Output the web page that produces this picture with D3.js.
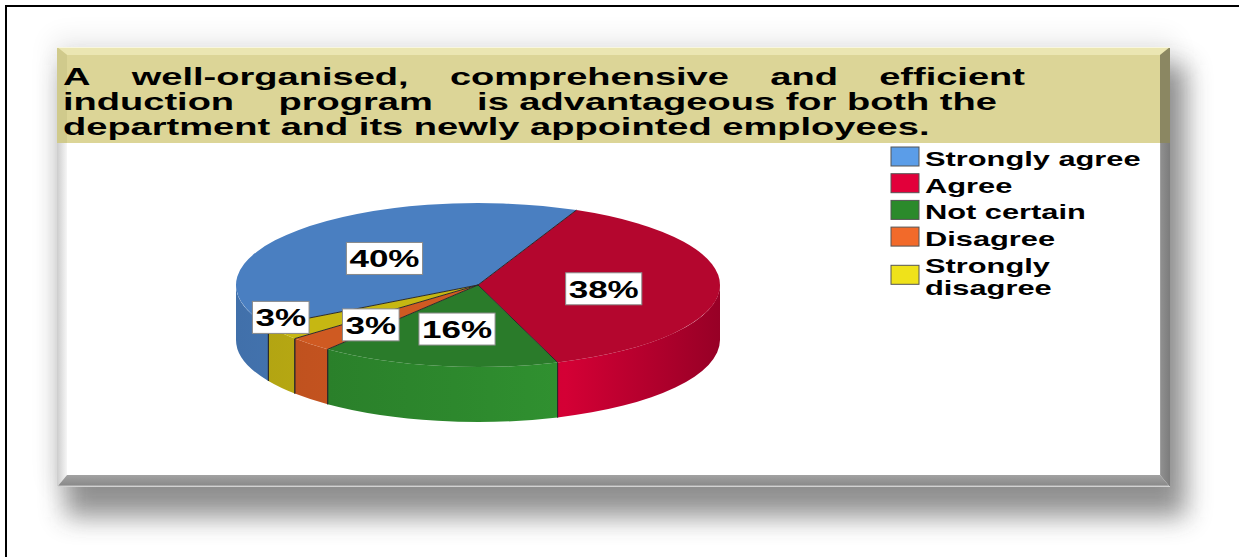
<!DOCTYPE html>
<html><head><meta charset="utf-8">
<script src="https://cdn.jsdelivr.net/npm/d3@7"></script>
<style>html,body{margin:0;padding:0;background:#fff;} svg{display:block}</style>
</head><body>
<script>
// ---- data ----
const categories = ["Strongly agree", "Agree", "Not certain", "Disagree", "Strongly disagree"];
const shares = [40, 38, 16, 3, 3];
const legendLines = [["Strongly agree"], ["Agree"], ["Not certain"], ["Disagree"], ["Strongly", "disagree"]];
const titleLines = [
  ["A", "well-organised,", "comprehensive", "and", "efficient"],
  ["induction", "program", "is advantageous for both the"],
  ["department and its newly appointed employees."]
];

// ---- styles ----
const topColors = ["#4a7fc1", "#b4062e", "#2a7b2a", "#cf5a22", "#c6b712"];
const wallColors = ["#4a7fc1", "#cc0033", "#2e8b2e", "#d35a22", "#c8b814"];
const swatchColors = ["#5b9de8", "#e2003a", "#2b8a2b", "#f26a2a", "#efe21a"];
const FONT = "'Liberation Sans', Arial, Helvetica, sans-serif";

const W = 1239, H = 557;
const svg = d3.select("body").append("svg").attr("width", W).attr("height", H);
const defs = svg.append("defs");

// ---- page frame ----
svg.append("rect").attr("width", W).attr("height", H).attr("fill", "#fff");

const blur = defs.append("filter").attr("id", "soft")
  .attr("x", "-20%").attr("y", "-30%").attr("width", "140%").attr("height", "160%");
blur.append("feGaussianBlur").attr("stdDeviation", 13);

const P = {x0: 57, y0: 47, x1: 1170, y1: 487, side: 10, top: 8, bottom: 12, band: 143};

// drop shadow of the panel
svg.append("rect").attr("x", P.x0 - 5).attr("y", P.y0 - 10)
  .attr("width", P.x1 - P.x0 + 10).attr("height", P.y1 - P.y0 + 10)
  .attr("fill", "#000").attr("opacity", 0.07).attr("filter", "url(#soft)");
svg.append("rect").attr("x", P.x0 + 8).attr("y", P.y0 + 18)
  .attr("width", P.x1 - P.x0 + 8).attr("height", P.y1 - P.y0 + 12)
  .attr("fill", "#3a3a3a").attr("opacity", 0.55).attr("filter", "url(#soft)");

svg.append("path").attr("d", `M6,${H} V6 H${W}`)
  .attr("fill", "none").attr("stroke", "#000").attr("stroke-width", 2);

// panel body
svg.append("rect").attr("x", P.x0).attr("y", P.y0)
  .attr("width", P.x1 - P.x0).attr("height", P.y1 - P.y0).attr("fill", "#fff");
svg.append("rect").attr("x", P.x0).attr("y", P.y0)
  .attr("width", P.x1 - P.x0).attr("height", P.band - P.y0).attr("fill", "#dcd597");

function poly(pts, fill) {
  svg.append("polygon").attr("points", pts.map(p => p.join(",")).join(" ")).attr("fill", fill);
}
const lg = defs.append("linearGradient").attr("id", "bevL").attr("x1", 0).attr("x2", 1);
lg.append("stop").attr("offset", 0).attr("stop-color", "#cdcdcd");
lg.append("stop").attr("offset", 1).attr("stop-color", "#f6f6f6");
const rg = defs.append("linearGradient").attr("id", "bevR").attr("x1", 0).attr("x2", 1);
rg.append("stop").attr("offset", 0).attr("stop-color", "#a6a6a6");
rg.append("stop").attr("offset", 0.15).attr("stop-color", "#8e8e8e");
rg.append("stop").attr("offset", 1).attr("stop-color", "#7c7c7c");
const bg = defs.append("linearGradient").attr("id", "bevB").attr("x1", 0).attr("x2", 0).attr("y1", 0).attr("y2", 1);
bg.append("stop").attr("offset", 0).attr("stop-color", "#a2a2a2");
bg.append("stop").attr("offset", 0.85).attr("stop-color", "#8a8a8a");
bg.append("stop").attr("offset", 0.9).attr("stop-color", "#c8c8c8");
bg.append("stop").attr("offset", 1).attr("stop-color", "#d8d8d8");

const s = P.side;
poly([[P.x0, P.y0], [P.x1, P.y0], [P.x1 - s, P.y0 + P.top], [P.x0 + s, P.y0 + P.top]], "#ebe6b2");
poly([[P.x0, P.y0], [P.x0 + s, P.y0 + P.top], [P.x0 + s, P.band], [P.x0, P.band]], "#d0ca8c");
poly([[P.x0, P.band], [P.x0 + s, P.band], [P.x0 + s, P.y1 - P.bottom], [P.x0, P.y1]], "url(#bevL)");
poly([[P.x1, P.y0], [P.x1 - s, P.y0 + P.top], [P.x1 - s, P.band], [P.x1, P.band]], "#8b8762");
poly([[P.x1, P.band], [P.x1 - s, P.band], [P.x1 - s, P.y1 - P.bottom], [P.x1, P.y1]], "url(#bevR)");
poly([[P.x0, P.y1], [P.x0 + s, P.y1 - P.bottom], [P.x1 - s, P.y1 - P.bottom], [P.x1, P.y1]], "url(#bevB)");
svg.append("line").attr("x1", P.x0).attr("x2", P.x1).attr("y1", P.y0 + 0.5).attr("y2", P.y0 + 0.5)
  .attr("stroke", "#f8f6e0").attr("stroke-width", 1);

// ---- title (justified, horizontally stretched type) ----
const titleSX = 1.585;
const titleLeft = 63;
const titleRight = [1025, 997, null];
const titleBase = [85, 110, 135];
titleLines.forEach((words, li) => {
  const items = words.map(w => {
    const g = svg.append("g");
    const t = g.append("text").text(w)
      .attr("font-family", FONT).attr("font-weight", "bold").attr("font-size", 24)
      .attr("fill", "#000");
    return {g, w: t.node().getComputedTextLength() * titleSX};
  });
  const total = d3.sum(items, d => d.w);
  const gap = (titleRight[li] && items.length > 1)
    ? (titleRight[li] - titleLeft - total) / (items.length - 1) : 0;
  let x = titleLeft;
  items.forEach(it => {
    it.g.attr("transform", `translate(${x},${titleBase[li]}) scale(${titleSX},1)`);
    x += it.w + gap;
  });
});

// ---- 3D pie ----
const cx = 478, cy = 285, rx = 242, ry = 82, depth = 55;
const start = 240 * Math.PI / 180;
const pie = d3.pie().sort(null).value(d => d).startAngle(start).endAngle(start + 2 * Math.PI);
const arcs = pie(shares);

const px = a => cx + rx * Math.sin(a);
const py = a => cy - ry * Math.cos(a);

function shade(c, k) {
  const r = d3.rgb(c);
  return d3.rgb(Math.min(255, r.r * k), Math.min(255, r.g * k), Math.min(255, r.b * k)).toString();
}
wallColors.forEach((c, i) => {
  const g = defs.append("linearGradient").attr("id", "wall" + i)
    .attr("gradientUnits", "userSpaceOnUse")
    .attr("x1", cx - rx).attr("x2", cx + rx).attr("y1", 0).attr("y2", 0);
  [[0, 0.88], [0.45, 0.98], [0.68, 1.04], [1, 0.74]].forEach(([o, k]) =>
    g.append("stop").attr("offset", o).attr("stop-color", shade(c, k)));
});

// visible (front) part of each slice's outer wall
function frontRange(a0, a1) {
  for (let k = 0; k < 2; k++) {
    const f0 = Math.PI / 2 + 2 * Math.PI * k, f1 = 3 * Math.PI / 2 + 2 * Math.PI * k;
    const b0 = Math.max(a0, f0), b1 = Math.min(a1, f1);
    if (b1 > b0) return [b0, b1];
  }
  return null;
}
const inFront = a => {
  const m = ((a % (2 * Math.PI)) + 2 * Math.PI) % (2 * Math.PI);
  return m > Math.PI / 2 && m < 3 * Math.PI / 2;
};

const pieG = svg.append("g");
arcs.forEach((d, i) => {
  const r = frontRange(d.startAngle, d.endAngle);
  if (!r) return;
  const [b0, b1] = r;
  pieG.append("path")
    .attr("d", `M${px(b0)},${py(b0)} A${rx},${ry} 0 0 1 ${px(b1)},${py(b1)}`
      + ` L${px(b1)},${py(b1) + depth} A${rx},${ry} 0 0 0 ${px(b0)},${py(b0) + depth} Z`)
    .attr("fill", `url(#wall${i})`);
});
arcs.forEach(d => {
  [d.startAngle, d.endAngle].forEach(a => {
    if (!inFront(a)) return;
    pieG.append("line").attr("x1", px(a)).attr("y1", py(a)).attr("x2", px(a)).attr("y2", py(a) + depth)
      .attr("stroke", "#2a2a2a").attr("stroke-width", 1);
  });
});
arcs.forEach((d, i) => {
  const a0 = d.startAngle, a1 = d.endAngle;
  const large = (a1 - a0) > Math.PI ? 1 : 0;
  pieG.append("path")
    .attr("d", `M${cx},${cy} L${px(a0)},${py(a0)} A${rx},${ry} 0 ${large} 1 ${px(a1)},${py(a1)} Z`)
    .attr("fill", topColors[i]);
});
arcs.forEach(d => {
  pieG.append("line").attr("x1", cx).attr("y1", cy).attr("x2", px(d.startAngle)).attr("y2", py(d.startAngle))
    .attr("stroke", "#2a2a2a").attr("stroke-width", 1);
});

// ---- value labels ----
const labelSX = 1.46, boxH = 32;
const placed = [];
const overlaps = b => placed.some(p => b.x0 < p.x1 && b.x1 > p.x0 && b.y0 < p.y1 && b.y1 > p.y0);
arcs.forEach(d => {
  const mid = (d.startAngle + d.endAngle) / 2;
  const f = d.data >= 10 ? 0.52 : 0.64;
  const g = pieG.append("g");
  const rect = g.append("rect");
  const inner = g.append("g");
  const t = inner.append("text").text(d.data + "%")
    .attr("font-family", FONT).attr("font-weight", "bold").attr("font-size", 24).attr("fill", "#000");
  const tw = t.node().getComputedTextLength() * labelSX;
  const bw = tw + 6;
  let x = cx + f * rx * Math.sin(mid);
  const y = cy + 2 - f * ry * Math.cos(mid);
  let box = {x0: x - bw / 2, x1: x + bw / 2, y0: y - boxH / 2, y1: y + boxH / 2};
  if (overlaps(box)) {
    // move the label out to the rim of the pie
    x = cx + rx * Math.sin(mid);
    box = {x0: x - bw / 2, x1: x + bw / 2, y0: y - boxH / 2, y1: y + boxH / 2};
  }
  placed.push(box);
  rect.attr("x", box.x0).attr("y", box.y0).attr("width", bw).attr("height", boxH)
    .attr("fill", "#fff").attr("stroke", "#8a8a8a").attr("stroke-width", 1);
  inner.attr("transform", `translate(${x - tw / 2},${box.y0 + 25}) scale(${labelSX},1)`);
});

// ---- legend ----
const legSX = 1.58, legFont = 19.5;
const legX = 891, swW = 28, swH = 19, textX = 925;
const rowStep = 26.7, lineStep = 22;
let base = 166;
const legG = svg.append("g");
legendLines.forEach((lines, i) => {
  const text = legG.append("g").attr("transform", `translate(${textX},${base}) scale(${legSX},1)`)
    .append("text")
    .attr("font-family", FONT).attr("font-weight", "bold").attr("font-size", legFont).attr("fill", "#000");
  lines.forEach((ln, j) => {
    text.append("tspan").attr("x", 0).attr("dy", j === 0 ? 0 : lineStep).text(ln);
  });
  const last = base + (lines.length - 1) * lineStep;
  const swBottom = lines.length > 1 ? (base - 14 + last) / 2 - 2 + swH / 2 : base;
  legG.append("rect").attr("x", legX).attr("y", swBottom - swH).attr("width", swW).attr("height", swH)
    .attr("fill", swatchColors[i]).attr("stroke", "#555").attr("stroke-width", 1);
  base += rowStep;
});
</script>
</body></html>
